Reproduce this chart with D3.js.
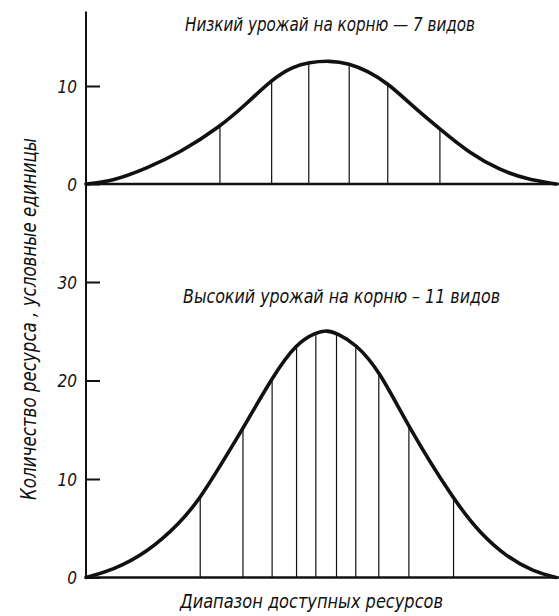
<!DOCTYPE html>
<html>
<head>
<meta charset="utf-8">
<script src="https://cdn.jsdelivr.net/npm/d3@7"></script>
<style>
	body { margin: 0; background: #fff; }
	svg text { font-family: "Liberation Sans Narrow", "DejaVu Sans Condensed", sans-serif; font-style: italic; fill: #111; }
</style>
</head>
<body>
<div id="chart"></div>
<script>

// resource axis: 0..100 (no ticks), amount in conventional units
var lowX = [0, 5.7, 12.9, 20, 28.4, 34.2, 39.6, 44.1, 47.4, 51.8, 56, 60, 64.2, 69.6, 75.3, 81.7, 88.1, 93.8, 100];
var lowY = [0, 0.3, 1.6, 3.2, 5.8, 8.2, 10.7, 12.0, 12.4, 12.6, 12.3, 11.5, 10.3, 7.9, 5.6, 3.1, 1.4, 0.5, 0];
var lowBounds = [28.5, 39.5, 47.4, 56.0, 64.2, 75.3];

var highX = [0, 5.8, 12.9, 20, 24.3, 28.5, 33.5, 39.7, 44.8, 49.1, 51.2, 53.5, 57.4, 62.3, 68.7, 78.2, 83.8, 89.5, 95.2, 100];
var highY = [0, 0.77, 2.5, 5.5, 8.07, 11.3, 15.2, 20.4, 23.8, 24.9, 25.1, 24.8, 23.7, 21.1, 15.2, 7.9, 4.5, 2.1, 0.6, 0];
var highBounds = [24.3, 33.4, 39.6, 44.8, 48.9, 53.3, 57.4, 62.3, 68.7, 78.2];

var lowTicks = [0, 10];
var highTicks = [0, 10, 20, 30];

var lowTitle = "Низкий урожай на корню — 7 видов";
var highTitle = "Высокий урожай на корню – 11 видов";
var xTitle = "Диапазон доступных ресурсов";
var yTitle = "Количество ресурса , условные единицы";

var width = 559, height = 616;
var ink = "#111";

var svg = d3.select("#chart")
	.append("svg")
	.attr("width", width)
	.attr("height", height);

var x = d3.scaleLinear().domain([0, 100]).range([86, 556]);
var yLow = d3.scaleLinear().domain([0, 10]).range([184, 86]);
var yHigh = d3.scaleLinear().domain([0, 30]).range([577.5, 282]);

// y at a given screen x on a drawn path (curve is monotone in x)
function yOnPath(node, px) {
	var lo = 0, hi = node.getTotalLength();
	for (var i = 0; i < 40; i++) {
		var mid = (lo + hi) / 2;
		if (node.getPointAtLength(mid).x < px) lo = mid; else hi = mid;
	}
	return node.getPointAtLength((lo + hi) / 2).y;
}

function label(sel, size, len) {
	sel.style("font-size", size + "px")
		.attr("textLength", len)
		.attr("lengthAdjust", "spacingAndGlyphs");
}

function panel(xs, ys, bounds, ticks, y, title, titleX, titleY, titleLen) {
	var g = svg.append("g");
	var pts = xs.map(function(d, i) { return [d, ys[i]]; });

	// dividers first, so the curve sits over them
	var dividers = g.append("g");

	var line = d3.line()
		.x(function(d) { return x(d[0]); })
		.y(function(d) { return y(d[1]); })
		.curve(d3.curveBasis);

	var curve = g.append("path")
		.datum(pts)
		.attr("d", line)
		.attr("fill", "none")
		.attr("stroke", ink)
		.attr("stroke-width", 3.6)
		.attr("stroke-linecap", "round");

	var node = curve.node();
	dividers.selectAll("line")
		.data(bounds)
		.enter().append("line")
		.attr("x1", function(d) { return x(d); })
		.attr("x2", function(d) { return x(d); })
		.attr("y1", y(0))
		.attr("y2", function(d) { return yOnPath(node, x(d)); })
		.attr("stroke", ink)
		.attr("stroke-width", 1.2);

	// baseline
	g.append("line")
		.attr("x1", x(0))
		.attr("x2", width)
		.attr("y1", y(0))
		.attr("y2", y(0))
		.attr("stroke", ink)
		.attr("stroke-width", 2.6);

	var axis = d3.axisLeft(y)
		.tickValues(ticks)
		.tickSizeInner(-14)
		.tickSizeOuter(0)
		.tickPadding(9)
		.tickFormat(d3.format("d"));

	var ag = g.append("g")
		.attr("transform", "translate(" + x(0) + ",0)")
		.call(axis);
	ag.select(".domain").remove();
	ag.selectAll("line").attr("stroke", ink).attr("stroke-width", 2);
	ag.selectAll("text")
		.attr("font-family", null)
		.style("font-size", "17px")
		.attr("dy", "0.36em");

	g.append("text")
		.attr("x", titleX)
		.attr("y", titleY)
		.text(title)
		.call(label, 19, titleLen);
}

panel(lowX, lowY, lowBounds, lowTicks, yLow, lowTitle, 185, 31, 290);
panel(highX, highY, highBounds, highTicks, yHigh, highTitle, 183, 303, 317);

// continuous y spine
svg.append("line")
	.attr("x1", x(0))
	.attr("x2", x(0))
	.attr("y1", yLow(17.6))
	.attr("y2", yHigh(0))
	.attr("stroke", ink)
	.attr("stroke-width", 2);

svg.append("text")
	.attr("x", 180)
	.attr("y", 608)
	.text(xTitle)
	.call(label, 19, 263);

svg.append("text")
	.attr("transform", "translate(36,500) rotate(-90)")
	.text(yTitle)
	.call(label, 21, 362);

</script>
</body>
</html>
